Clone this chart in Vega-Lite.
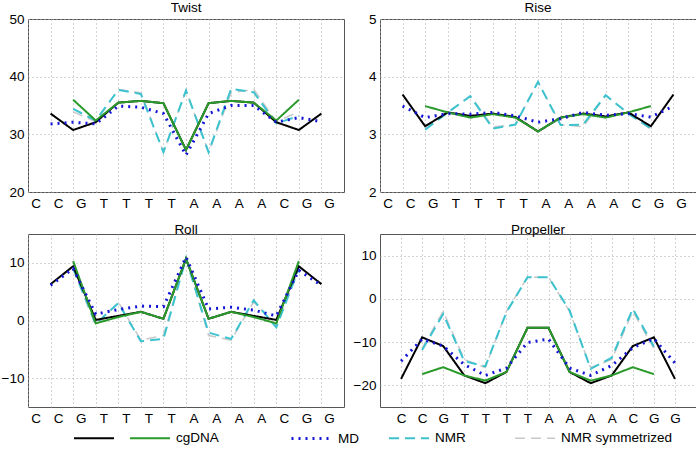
{
  "$schema": "https://vega.github.io/schema/vega-lite/v6.json",
  "padding": 0,
  "config": {
    "font": "Liberation Sans",
    "view": {"stroke": "#555555", "strokeWidth": 1},
    "axis": {"labelFont": "Liberation Sans", "labelFontSize": 13.5, "labelColor": "#000000", "domain": false, "ticks": false, "grid": true, "gridColor": "#a8a8a8", "gridDash": [1, 3], "gridWidth": 1, "title": null, "labelPadding": 4, "labelFlush": false, "labelOverlap": false},
    "title": {"font": "Liberation Sans", "fontSize": 13.5, "fontWeight": "normal", "offset": -2, "color": "#000000"},
    "legend": {"labelFont": "Liberation Sans", "labelFontSize": 13.5, "labelColor": "#000000"},
    "line": {"strokeJoin": "miter"}
  },
  "datasets": {
    "d": [
      {"panel": "Twist", "series": "NMR symmetrized", "pos": 2, "value": 33.9},
      {"panel": "Twist", "series": "NMR symmetrized", "pos": 3, "value": 32.2},
      {"panel": "Twist", "series": "NMR symmetrized", "pos": 4, "value": 37.8},
      {"panel": "Twist", "series": "NMR symmetrized", "pos": 5, "value": 37.2},
      {"panel": "Twist", "series": "NMR symmetrized", "pos": 6, "value": 26.9},
      {"panel": "Twist", "series": "NMR symmetrized", "pos": 7, "value": 37.6},
      {"panel": "Twist", "series": "NMR symmetrized", "pos": 8, "value": 26.9},
      {"panel": "Twist", "series": "NMR symmetrized", "pos": 9, "value": 37.2},
      {"panel": "Twist", "series": "NMR symmetrized", "pos": 10, "value": 37.8},
      {"panel": "Twist", "series": "NMR symmetrized", "pos": 11, "value": 32.2},
      {"panel": "Twist", "series": "NMR symmetrized", "pos": 12, "value": 33.9},
      {"panel": "Twist", "series": "NMR", "pos": 2, "value": 34.4},
      {"panel": "Twist", "series": "NMR", "pos": 3, "value": 32.4},
      {"panel": "Twist", "series": "NMR", "pos": 4, "value": 37.7},
      {"panel": "Twist", "series": "NMR", "pos": 5, "value": 37.0},
      {"panel": "Twist", "series": "NMR", "pos": 6, "value": 26.9},
      {"panel": "Twist", "series": "NMR", "pos": 7, "value": 37.6},
      {"panel": "Twist", "series": "NMR", "pos": 8, "value": 26.9},
      {"panel": "Twist", "series": "NMR", "pos": 9, "value": 37.9},
      {"panel": "Twist", "series": "NMR", "pos": 10, "value": 37.3},
      {"panel": "Twist", "series": "NMR", "pos": 11, "value": 31.9},
      {"panel": "Twist", "series": "NMR", "pos": 12, "value": 33.2},
      {"panel": "Twist", "series": "cgDNA-black", "pos": 1, "value": 33.6},
      {"panel": "Twist", "series": "cgDNA-black", "pos": 2, "value": 30.75},
      {"panel": "Twist", "series": "cgDNA-black", "pos": 3, "value": 32.1},
      {"panel": "Twist", "series": "cgDNA-black", "pos": 4, "value": 35.5},
      {"panel": "Twist", "series": "cgDNA-black", "pos": 5, "value": 35.8},
      {"panel": "Twist", "series": "cgDNA-black", "pos": 6, "value": 35.4},
      {"panel": "Twist", "series": "cgDNA-black", "pos": 7, "value": 27.3},
      {"panel": "Twist", "series": "cgDNA-black", "pos": 8, "value": 35.4},
      {"panel": "Twist", "series": "cgDNA-black", "pos": 9, "value": 35.8},
      {"panel": "Twist", "series": "cgDNA-black", "pos": 10, "value": 35.5},
      {"panel": "Twist", "series": "cgDNA-black", "pos": 11, "value": 32.1},
      {"panel": "Twist", "series": "cgDNA-black", "pos": 12, "value": 30.75},
      {"panel": "Twist", "series": "cgDNA-black", "pos": 13, "value": 33.6},
      {"panel": "Twist", "series": "cgDNA", "pos": 2, "value": 36.0},
      {"panel": "Twist", "series": "cgDNA", "pos": 3, "value": 32.4},
      {"panel": "Twist", "series": "cgDNA", "pos": 4, "value": 35.5},
      {"panel": "Twist", "series": "cgDNA", "pos": 5, "value": 35.8},
      {"panel": "Twist", "series": "cgDNA", "pos": 6, "value": 35.4},
      {"panel": "Twist", "series": "cgDNA", "pos": 7, "value": 27.3},
      {"panel": "Twist", "series": "cgDNA", "pos": 8, "value": 35.4},
      {"panel": "Twist", "series": "cgDNA", "pos": 9, "value": 35.8},
      {"panel": "Twist", "series": "cgDNA", "pos": 10, "value": 35.5},
      {"panel": "Twist", "series": "cgDNA", "pos": 11, "value": 32.4},
      {"panel": "Twist", "series": "cgDNA", "pos": 12, "value": 36.0},
      {"panel": "Twist", "series": "MD", "pos": 1, "value": 31.8},
      {"panel": "Twist", "series": "MD", "pos": 2, "value": 32.1},
      {"panel": "Twist", "series": "MD", "pos": 3, "value": 31.8},
      {"panel": "Twist", "series": "MD", "pos": 4, "value": 34.9},
      {"panel": "Twist", "series": "MD", "pos": 5, "value": 34.7},
      {"panel": "Twist", "series": "MD", "pos": 6, "value": 33.6},
      {"panel": "Twist", "series": "MD", "pos": 7, "value": 26.4},
      {"panel": "Twist", "series": "MD", "pos": 8, "value": 33.6},
      {"panel": "Twist", "series": "MD", "pos": 9, "value": 35.0},
      {"panel": "Twist", "series": "MD", "pos": 10, "value": 35.0},
      {"panel": "Twist", "series": "MD", "pos": 11, "value": 32.1},
      {"panel": "Twist", "series": "MD", "pos": 12, "value": 32.9},
      {"panel": "Twist", "series": "MD", "pos": 13, "value": 32.2},

      {"panel": "Rise", "series": "NMR symmetrized", "pos": 2, "value": 3.09},
      {"panel": "Rise", "series": "NMR symmetrized", "pos": 3, "value": 3.37},
      {"panel": "Rise", "series": "NMR symmetrized", "pos": 4, "value": 3.67},
      {"panel": "Rise", "series": "NMR symmetrized", "pos": 5, "value": 3.13},
      {"panel": "Rise", "series": "NMR symmetrized", "pos": 6, "value": 3.17},
      {"panel": "Rise", "series": "NMR symmetrized", "pos": 7, "value": 3.91},
      {"panel": "Rise", "series": "NMR symmetrized", "pos": 8, "value": 3.17},
      {"panel": "Rise", "series": "NMR symmetrized", "pos": 9, "value": 3.13},
      {"panel": "Rise", "series": "NMR symmetrized", "pos": 10, "value": 3.67},
      {"panel": "Rise", "series": "NMR symmetrized", "pos": 11, "value": 3.37},
      {"panel": "Rise", "series": "NMR symmetrized", "pos": 12, "value": 3.09},
      {"panel": "Rise", "series": "NMR", "pos": 2, "value": 3.08},
      {"panel": "Rise", "series": "NMR", "pos": 3, "value": 3.38},
      {"panel": "Rise", "series": "NMR", "pos": 4, "value": 3.66},
      {"panel": "Rise", "series": "NMR", "pos": 5, "value": 3.10},
      {"panel": "Rise", "series": "NMR", "pos": 6, "value": 3.17},
      {"panel": "Rise", "series": "NMR", "pos": 7, "value": 3.91},
      {"panel": "Rise", "series": "NMR", "pos": 8, "value": 3.16},
      {"panel": "Rise", "series": "NMR", "pos": 9, "value": 3.17},
      {"panel": "Rise", "series": "NMR", "pos": 10, "value": 3.68},
      {"panel": "Rise", "series": "NMR", "pos": 11, "value": 3.36},
      {"panel": "Rise", "series": "NMR", "pos": 12, "value": 3.10},
      {"panel": "Rise", "series": "cgDNA-black", "pos": 1, "value": 3.69},
      {"panel": "Rise", "series": "cgDNA-black", "pos": 2, "value": 3.14},
      {"panel": "Rise", "series": "cgDNA-black", "pos": 3, "value": 3.38},
      {"panel": "Rise", "series": "cgDNA-black", "pos": 4, "value": 3.32},
      {"panel": "Rise", "series": "cgDNA-black", "pos": 5, "value": 3.36},
      {"panel": "Rise", "series": "cgDNA-black", "pos": 6, "value": 3.30},
      {"panel": "Rise", "series": "cgDNA-black", "pos": 7, "value": 3.05},
      {"panel": "Rise", "series": "cgDNA-black", "pos": 8, "value": 3.29},
      {"panel": "Rise", "series": "cgDNA-black", "pos": 9, "value": 3.36},
      {"panel": "Rise", "series": "cgDNA-black", "pos": 10, "value": 3.31},
      {"panel": "Rise", "series": "cgDNA-black", "pos": 11, "value": 3.38},
      {"panel": "Rise", "series": "cgDNA-black", "pos": 12, "value": 3.14},
      {"panel": "Rise", "series": "cgDNA-black", "pos": 13, "value": 3.69},
      {"panel": "Rise", "series": "cgDNA", "pos": 2, "value": 3.49},
      {"panel": "Rise", "series": "cgDNA", "pos": 3, "value": 3.38},
      {"panel": "Rise", "series": "cgDNA", "pos": 4, "value": 3.29},
      {"panel": "Rise", "series": "cgDNA", "pos": 5, "value": 3.35},
      {"panel": "Rise", "series": "cgDNA", "pos": 6, "value": 3.29},
      {"panel": "Rise", "series": "cgDNA", "pos": 7, "value": 3.05},
      {"panel": "Rise", "series": "cgDNA", "pos": 8, "value": 3.29},
      {"panel": "Rise", "series": "cgDNA", "pos": 9, "value": 3.35},
      {"panel": "Rise", "series": "cgDNA", "pos": 10, "value": 3.29},
      {"panel": "Rise", "series": "cgDNA", "pos": 11, "value": 3.38},
      {"panel": "Rise", "series": "cgDNA", "pos": 12, "value": 3.49},
      {"panel": "Rise", "series": "MD", "pos": 1, "value": 3.49},
      {"panel": "Rise", "series": "MD", "pos": 2, "value": 3.29},
      {"panel": "Rise", "series": "MD", "pos": 3, "value": 3.36},
      {"panel": "Rise", "series": "MD", "pos": 4, "value": 3.35},
      {"panel": "Rise", "series": "MD", "pos": 5, "value": 3.38},
      {"panel": "Rise", "series": "MD", "pos": 6, "value": 3.32},
      {"panel": "Rise", "series": "MD", "pos": 7, "value": 3.21},
      {"panel": "Rise", "series": "MD", "pos": 8, "value": 3.27},
      {"panel": "Rise", "series": "MD", "pos": 9, "value": 3.38},
      {"panel": "Rise", "series": "MD", "pos": 10, "value": 3.33},
      {"panel": "Rise", "series": "MD", "pos": 11, "value": 3.36},
      {"panel": "Rise", "series": "MD", "pos": 12, "value": 3.30},
      {"panel": "Rise", "series": "MD", "pos": 13, "value": 3.49},

      {"panel": "Roll", "series": "NMR symmetrized", "pos": 2, "value": 9.0},
      {"panel": "Roll", "series": "NMR symmetrized", "pos": 3, "value": -0.9},
      {"panel": "Roll", "series": "NMR symmetrized", "pos": 4, "value": 3.2},
      {"panel": "Roll", "series": "NMR symmetrized", "pos": 5, "value": -3.4},
      {"panel": "Roll", "series": "NMR symmetrized", "pos": 6, "value": -2.6},
      {"panel": "Roll", "series": "NMR symmetrized", "pos": 7, "value": 10.8},
      {"panel": "Roll", "series": "NMR symmetrized", "pos": 8, "value": -2.6},
      {"panel": "Roll", "series": "NMR symmetrized", "pos": 9, "value": -3.4},
      {"panel": "Roll", "series": "NMR symmetrized", "pos": 10, "value": 3.2},
      {"panel": "Roll", "series": "NMR symmetrized", "pos": 11, "value": -0.9},
      {"panel": "Roll", "series": "NMR symmetrized", "pos": 12, "value": 9.0},
      {"panel": "Roll", "series": "NMR", "pos": 2, "value": 9.0},
      {"panel": "Roll", "series": "NMR", "pos": 3, "value": -0.6},
      {"panel": "Roll", "series": "NMR", "pos": 4, "value": 3.0},
      {"panel": "Roll", "series": "NMR", "pos": 5, "value": -3.6},
      {"panel": "Roll", "series": "NMR", "pos": 6, "value": -3.2},
      {"panel": "Roll", "series": "NMR", "pos": 7, "value": 10.8},
      {"panel": "Roll", "series": "NMR", "pos": 8, "value": -2.1},
      {"panel": "Roll", "series": "NMR", "pos": 9, "value": -3.2},
      {"panel": "Roll", "series": "NMR", "pos": 10, "value": 3.5},
      {"panel": "Roll", "series": "NMR", "pos": 11, "value": -1.2},
      {"panel": "Roll", "series": "NMR", "pos": 12, "value": 9.0},
      {"panel": "Roll", "series": "cgDNA-black", "pos": 1, "value": 6.3},
      {"panel": "Roll", "series": "cgDNA-black", "pos": 2, "value": 9.4},
      {"panel": "Roll", "series": "cgDNA-black", "pos": 3, "value": 0.1},
      {"panel": "Roll", "series": "cgDNA-black", "pos": 4, "value": 0.8},
      {"panel": "Roll", "series": "cgDNA-black", "pos": 5, "value": 1.5},
      {"panel": "Roll", "series": "cgDNA-black", "pos": 6, "value": 0.3},
      {"panel": "Roll", "series": "cgDNA-black", "pos": 7, "value": 10.7},
      {"panel": "Roll", "series": "cgDNA-black", "pos": 8, "value": 0.3},
      {"panel": "Roll", "series": "cgDNA-black", "pos": 9, "value": 1.5},
      {"panel": "Roll", "series": "cgDNA-black", "pos": 10, "value": 0.8},
      {"panel": "Roll", "series": "cgDNA-black", "pos": 11, "value": 0.1},
      {"panel": "Roll", "series": "cgDNA-black", "pos": 12, "value": 9.4},
      {"panel": "Roll", "series": "cgDNA-black", "pos": 13, "value": 6.3},
      {"panel": "Roll", "series": "cgDNA", "pos": 2, "value": 10.3},
      {"panel": "Roll", "series": "cgDNA", "pos": 3, "value": -0.5},
      {"panel": "Roll", "series": "cgDNA", "pos": 4, "value": 0.6},
      {"panel": "Roll", "series": "cgDNA", "pos": 5, "value": 1.5},
      {"panel": "Roll", "series": "cgDNA", "pos": 6, "value": 0.3},
      {"panel": "Roll", "series": "cgDNA", "pos": 7, "value": 10.7},
      {"panel": "Roll", "series": "cgDNA", "pos": 8, "value": 0.3},
      {"panel": "Roll", "series": "cgDNA", "pos": 9, "value": 1.5},
      {"panel": "Roll", "series": "cgDNA", "pos": 10, "value": 0.6},
      {"panel": "Roll", "series": "cgDNA", "pos": 11, "value": -0.5},
      {"panel": "Roll", "series": "cgDNA", "pos": 12, "value": 10.3},
      {"panel": "Roll", "series": "MD", "pos": 1, "value": 6.1},
      {"panel": "Roll", "series": "MD", "pos": 2, "value": 9.0},
      {"panel": "Roll", "series": "MD", "pos": 3, "value": 1.1},
      {"panel": "Roll", "series": "MD", "pos": 4, "value": 1.9},
      {"panel": "Roll", "series": "MD", "pos": 5, "value": 2.5},
      {"panel": "Roll", "series": "MD", "pos": 6, "value": 2.4},
      {"panel": "Roll", "series": "MD", "pos": 7, "value": 11.0},
      {"panel": "Roll", "series": "MD", "pos": 8, "value": 2.0},
      {"panel": "Roll", "series": "MD", "pos": 9, "value": 2.3},
      {"panel": "Roll", "series": "MD", "pos": 10, "value": 1.8},
      {"panel": "Roll", "series": "MD", "pos": 11, "value": 0.8},
      {"panel": "Roll", "series": "MD", "pos": 12, "value": 8.7},
      {"panel": "Roll", "series": "MD", "pos": 13, "value": 6.1},

      {"panel": "Propeller", "series": "NMR symmetrized", "pos": 2, "value": -11.4},
      {"panel": "Propeller", "series": "NMR symmetrized", "pos": 3, "value": -2.9},
      {"panel": "Propeller", "series": "NMR symmetrized", "pos": 4, "value": -14.0},
      {"panel": "Propeller", "series": "NMR symmetrized", "pos": 5, "value": -15.9},
      {"panel": "Propeller", "series": "NMR symmetrized", "pos": 6, "value": -2.9},
      {"panel": "Propeller", "series": "NMR symmetrized", "pos": 7, "value": 5.0},
      {"panel": "Propeller", "series": "NMR symmetrized", "pos": 8, "value": 5.0},
      {"panel": "Propeller", "series": "NMR symmetrized", "pos": 9, "value": -2.9},
      {"panel": "Propeller", "series": "NMR symmetrized", "pos": 10, "value": -15.9},
      {"panel": "Propeller", "series": "NMR symmetrized", "pos": 11, "value": -14.0},
      {"panel": "Propeller", "series": "NMR symmetrized", "pos": 12, "value": -2.9},
      {"panel": "Propeller", "series": "NMR symmetrized", "pos": 13, "value": -11.4},
      {"panel": "Propeller", "series": "NMR", "pos": 2, "value": -11.8},
      {"panel": "Propeller", "series": "NMR", "pos": 3, "value": -3.5},
      {"panel": "Propeller", "series": "NMR", "pos": 4, "value": -14.4},
      {"panel": "Propeller", "series": "NMR", "pos": 5, "value": -15.6},
      {"panel": "Propeller", "series": "NMR", "pos": 6, "value": -3.1},
      {"panel": "Propeller", "series": "NMR", "pos": 7, "value": 5.0},
      {"panel": "Propeller", "series": "NMR", "pos": 8, "value": 5.0},
      {"panel": "Propeller", "series": "NMR", "pos": 9, "value": -2.7},
      {"panel": "Propeller", "series": "NMR", "pos": 10, "value": -16.2},
      {"panel": "Propeller", "series": "NMR", "pos": 11, "value": -13.6},
      {"panel": "Propeller", "series": "NMR", "pos": 12, "value": -2.3},
      {"panel": "Propeller", "series": "NMR", "pos": 13, "value": -11.0},
      {"panel": "Propeller", "series": "cgDNA-black", "pos": 1, "value": -18.5},
      {"panel": "Propeller", "series": "cgDNA-black", "pos": 2, "value": -8.9},
      {"panel": "Propeller", "series": "cgDNA-black", "pos": 3, "value": -10.9},
      {"panel": "Propeller", "series": "cgDNA-black", "pos": 4, "value": -17.7},
      {"panel": "Propeller", "series": "cgDNA-black", "pos": 5, "value": -19.5},
      {"panel": "Propeller", "series": "cgDNA-black", "pos": 6, "value": -16.9},
      {"panel": "Propeller", "series": "cgDNA-black", "pos": 7, "value": -6.7},
      {"panel": "Propeller", "series": "cgDNA-black", "pos": 8, "value": -6.7},
      {"panel": "Propeller", "series": "cgDNA-black", "pos": 9, "value": -16.9},
      {"panel": "Propeller", "series": "cgDNA-black", "pos": 10, "value": -19.5},
      {"panel": "Propeller", "series": "cgDNA-black", "pos": 11, "value": -17.7},
      {"panel": "Propeller", "series": "cgDNA-black", "pos": 12, "value": -10.9},
      {"panel": "Propeller", "series": "cgDNA-black", "pos": 13, "value": -8.9},
      {"panel": "Propeller", "series": "cgDNA-black", "pos": 14, "value": -18.5},
      {"panel": "Propeller", "series": "cgDNA", "pos": 2, "value": -17.4},
      {"panel": "Propeller", "series": "cgDNA", "pos": 3, "value": -15.8},
      {"panel": "Propeller", "series": "cgDNA", "pos": 4, "value": -17.7},
      {"panel": "Propeller", "series": "cgDNA", "pos": 5, "value": -18.9},
      {"panel": "Propeller", "series": "cgDNA", "pos": 6, "value": -16.9},
      {"panel": "Propeller", "series": "cgDNA", "pos": 7, "value": -6.7},
      {"panel": "Propeller", "series": "cgDNA", "pos": 8, "value": -6.7},
      {"panel": "Propeller", "series": "cgDNA", "pos": 9, "value": -16.9},
      {"panel": "Propeller", "series": "cgDNA", "pos": 10, "value": -18.9},
      {"panel": "Propeller", "series": "cgDNA", "pos": 11, "value": -17.7},
      {"panel": "Propeller", "series": "cgDNA", "pos": 12, "value": -15.8},
      {"panel": "Propeller", "series": "cgDNA", "pos": 13, "value": -17.4},
      {"panel": "Propeller", "series": "MD", "pos": 1, "value": -14.4},
      {"panel": "Propeller", "series": "MD", "pos": 2, "value": -9.3},
      {"panel": "Propeller", "series": "MD", "pos": 3, "value": -10.9},
      {"panel": "Propeller", "series": "MD", "pos": 4, "value": -15.2},
      {"panel": "Propeller", "series": "MD", "pos": 5, "value": -17.7},
      {"panel": "Propeller", "series": "MD", "pos": 6, "value": -16.0},
      {"panel": "Propeller", "series": "MD", "pos": 7, "value": -10.1},
      {"panel": "Propeller", "series": "MD", "pos": 8, "value": -9.3},
      {"panel": "Propeller", "series": "MD", "pos": 9, "value": -16.0},
      {"panel": "Propeller", "series": "MD", "pos": 10, "value": -17.7},
      {"panel": "Propeller", "series": "MD", "pos": 11, "value": -15.4},
      {"panel": "Propeller", "series": "MD", "pos": 12, "value": -11.3},
      {"panel": "Propeller", "series": "MD", "pos": 13, "value": -9.2},
      {"panel": "Propeller", "series": "MD", "pos": 14, "value": -14.8}
    ]
  },
  "data": {"name": "d"},
  "columns": 2,
  "spacing": {"row": 42, "column": 36},
  "bounds": "flush",
  "concat": [
    {
      "title": "Twist",
      "width": 316, "height": 173,
      "transform": [{"filter": "datum.panel == 'Twist'"}],
      "mark": {"type": "line"},
      "encoding": {
        "x": {"field": "pos", "type": "quantitative", "scale": {"domain": [0, 14], "nice": false, "zero": false}, "axis": {"values": [0,1,2,3,4,5,6,7,8,9,10,11,12,13], "labelExpr": "substring('CCGTTTTAAAACGG', datum.value, datum.value + 1)", "labelOffset": 7.6}},
        "y": {"field": "value", "type": "quantitative", "scale": {"domain": [20, 50], "nice": false, "zero": false}, "axis": {"values": [20, 30, 40, 50]}},
        "color": {"field": "series", "type": "nominal", "scale": {"domain": ["cgDNA-black", "cgDNA", "MD", "NMR", "NMR symmetrized"], "range": ["#000000", "#2a9a2a", "#1515d6", "#3cc3cf", "#c8c8c8"]}, "legend": {"orient": "none", "legendX": 45, "legendY": 398, "direction": "horizontal", "title": null, "symbolType": "stroke", "symbolSize": 1600, "columnPadding": 6, "labelOffset": 5, "labelLimit": 300, "labelExpr": "datum.label == 'cgDNA-black' ? '' : datum.label == 'cgDNA' ? 'cgDNA\u2800\u2800\u2800\u2800\u2800\u2800' : datum.label == 'MD' ? 'MD\u2800\u2800' : datum.label == 'NMR' ? 'NMR\u2800\u2800\u2800\u2800' : datum.label"}},
        "strokeDash": {"field": "series", "type": "nominal", "scale": {"domain": ["cgDNA-black", "cgDNA", "MD", "NMR", "NMR symmetrized"], "range": [[1, 0], [1, 0], [2, 5], [10, 6], [10, 6]]}},
        "strokeWidth": {"field": "series", "type": "nominal", "scale": {"type": "ordinal", "domain": ["cgDNA-black", "cgDNA", "MD", "NMR", "NMR symmetrized"], "range": [2, 2, 3, 2, 1.5]}}
      }
    },
    {
      "title": "Rise",
      "width": 316, "height": 173,
      "transform": [{"filter": "datum.panel == 'Rise'"}],
      "mark": {"type": "line"},
      "encoding": {
        "x": {"field": "pos", "type": "quantitative", "scale": {"domain": [0, 14], "nice": false, "zero": false}, "axis": {"values": [0,1,2,3,4,5,6,7,8,9,10,11,12,13], "labelExpr": "substring('CCGTTTTAAAACGG', datum.value, datum.value + 1)", "labelOffset": 7.6}},
        "y": {"field": "value", "type": "quantitative", "scale": {"domain": [2, 5], "nice": false, "zero": false}, "axis": {"values": [2, 3, 4, 5]}},
        "color": {"field": "series", "type": "nominal", "scale": {"domain": ["cgDNA-black", "cgDNA", "MD", "NMR", "NMR symmetrized"], "range": ["#000000", "#2a9a2a", "#1515d6", "#3cc3cf", "#c8c8c8"]}},
        "strokeDash": {"field": "series", "type": "nominal", "scale": {"domain": ["cgDNA-black", "cgDNA", "MD", "NMR", "NMR symmetrized"], "range": [[1, 0], [1, 0], [2, 5], [10, 6], [10, 6]]}},
        "strokeWidth": {"field": "series", "type": "nominal", "scale": {"type": "ordinal", "domain": ["cgDNA-black", "cgDNA", "MD", "NMR", "NMR symmetrized"], "range": [2, 2, 3, 2, 1.5]}}
      }
    },
    {
      "title": "Roll",
      "width": 316, "height": 173,
      "transform": [{"filter": "datum.panel == 'Roll'"}],
      "mark": {"type": "line"},
      "encoding": {
        "x": {"field": "pos", "type": "quantitative", "scale": {"domain": [0, 14], "nice": false, "zero": false}, "axis": {"values": [0,1,2,3,4,5,6,7,8,9,10,11,12,13], "labelExpr": "substring('CCGTTTTAAAACGG', datum.value, datum.value + 1)", "labelOffset": 7.6}},
        "y": {"field": "value", "type": "quantitative", "scale": {"domain": [-15, 15], "nice": false, "zero": false}, "axis": {"values": [-10, 0, 10]}},
        "color": {"field": "series", "type": "nominal", "scale": {"domain": ["cgDNA-black", "cgDNA", "MD", "NMR", "NMR symmetrized"], "range": ["#000000", "#2a9a2a", "#1515d6", "#3cc3cf", "#c8c8c8"]}},
        "strokeDash": {"field": "series", "type": "nominal", "scale": {"domain": ["cgDNA-black", "cgDNA", "MD", "NMR", "NMR symmetrized"], "range": [[1, 0], [1, 0], [2, 5], [10, 6], [10, 6]]}},
        "strokeWidth": {"field": "series", "type": "nominal", "scale": {"type": "ordinal", "domain": ["cgDNA-black", "cgDNA", "MD", "NMR", "NMR symmetrized"], "range": [2, 2, 3, 2, 1.5]}}
      }
    },
    {
      "title": "Propeller",
      "width": 316, "height": 173,
      "transform": [{"filter": "datum.panel == 'Propeller'"}],
      "mark": {"type": "line"},
      "encoding": {
        "x": {"field": "pos", "type": "quantitative", "scale": {"domain": [0, 15], "nice": false, "zero": false}, "axis": {"values": [1,2,3,4,5,6,7,8,9,10,11,12,13,14], "labelExpr": "substring('CCGTTTTAAAACGG', datum.value - 1, datum.value)"}},
        "y": {"field": "value", "type": "quantitative", "scale": {"domain": [-25, 15], "nice": false, "zero": false}, "axis": {"values": [-20, -10, 0, 10]}},
        "color": {"field": "series", "type": "nominal", "scale": {"domain": ["cgDNA-black", "cgDNA", "MD", "NMR", "NMR symmetrized"], "range": ["#000000", "#2a9a2a", "#1515d6", "#3cc3cf", "#c8c8c8"]}},
        "strokeDash": {"field": "series", "type": "nominal", "scale": {"domain": ["cgDNA-black", "cgDNA", "MD", "NMR", "NMR symmetrized"], "range": [[1, 0], [1, 0], [2, 5], [10, 6], [10, 6]]}},
        "strokeWidth": {"field": "series", "type": "nominal", "scale": {"type": "ordinal", "domain": ["cgDNA-black", "cgDNA", "MD", "NMR", "NMR symmetrized"], "range": [2, 2, 3, 2, 1.5]}}
      }
    }
  ]
}
